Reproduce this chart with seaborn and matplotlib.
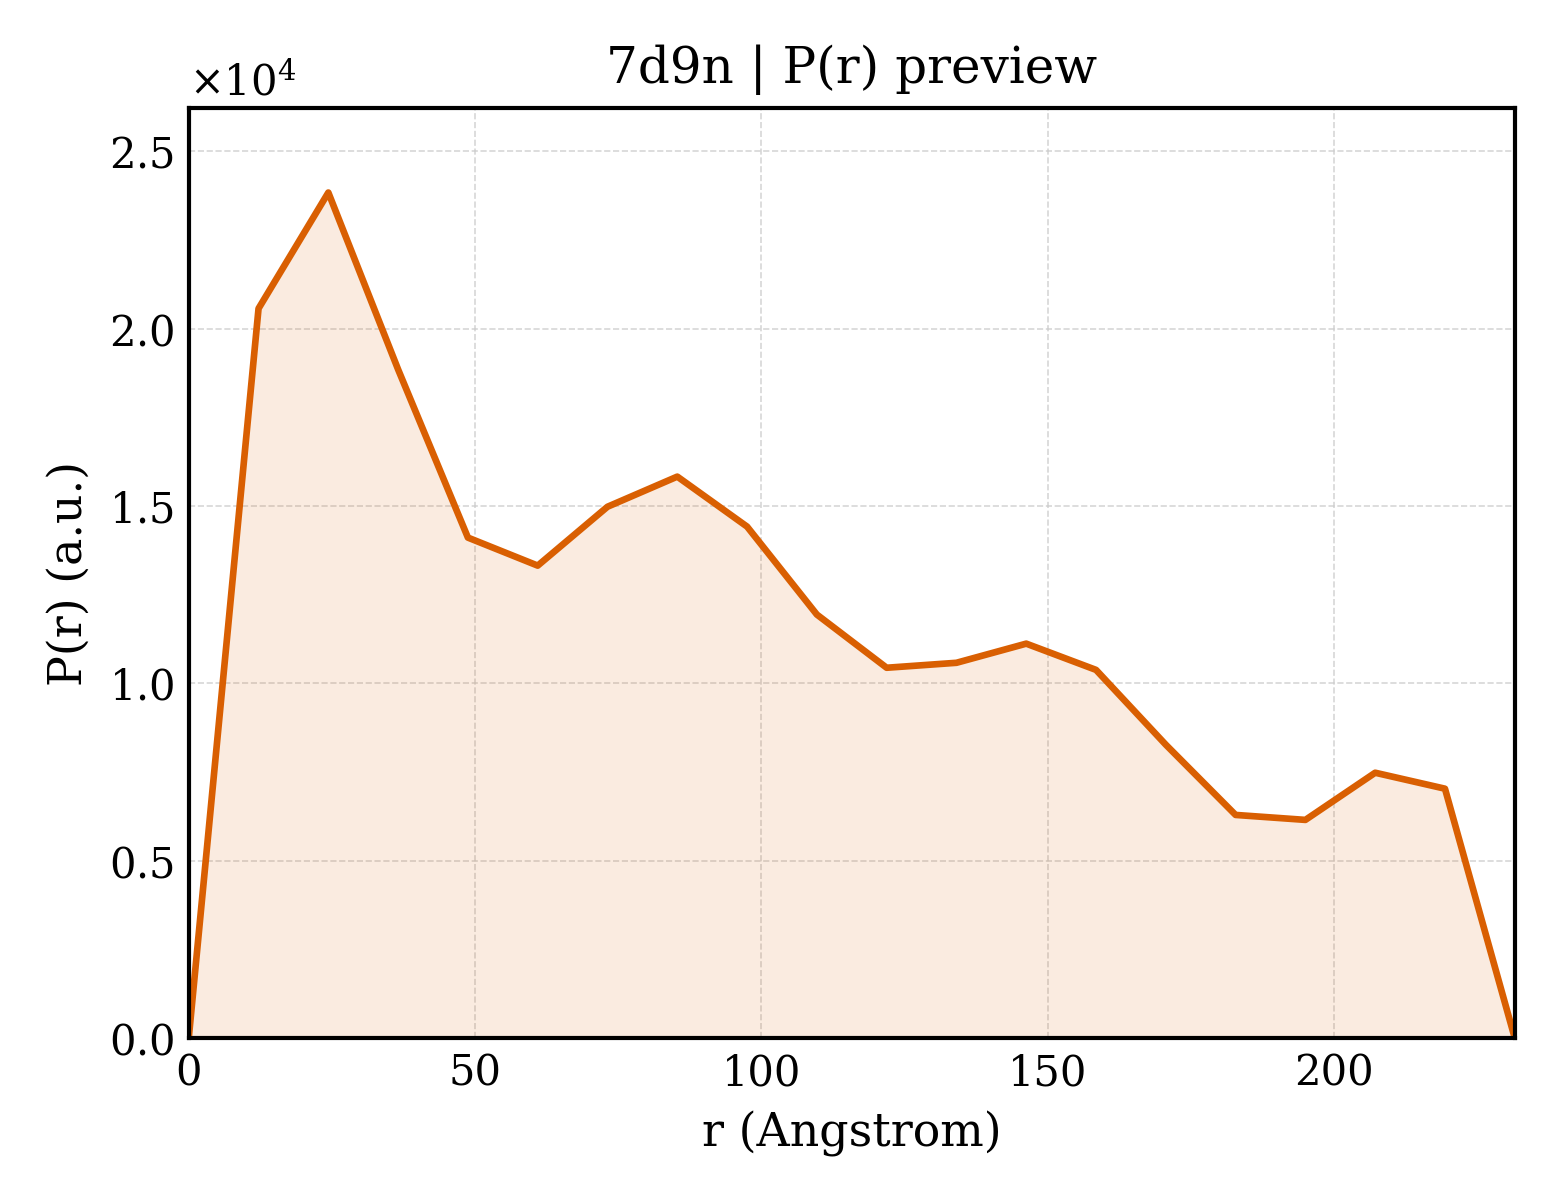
import numpy as np
import pandas as pd
import matplotlib
matplotlib.use("Agg")
import matplotlib.pyplot as plt
import seaborn as sns

# P(r) curve for 7d9n
r_max = 231.6
r = np.linspace(0, r_max, 20)
pr = [0, 20570, 23840, 18850, 14110, 13320, 14980, 15830, 14420, 11940,
      10440, 10580, 11120, 10380, 8270, 6290, 6150, 7480, 7030, 0]

df = pd.DataFrame({"r": r, "pr": pr})

sns.set_theme(style="white")
plt.rcParams["font.family"] = ["DejaVu Serif"]
plt.rcParams["mathtext.fontset"] = "dejavuserif"
plt.rcParams["text.color"] = "black"
plt.rcParams["axes.labelcolor"] = "black"

line_col = "#D95F02"

fig, ax = plt.subplots(figsize=(5.2, 4), dpi=300)
ax.fill_between(df["r"], df["pr"], color=line_col, alpha=0.12, linewidth=0)
sns.lineplot(data=df, x="r", y="pr", ax=ax, color=line_col, linewidth=1.6)

ax.set_xlim(0, r_max)
ax.set_ylim(0, max(pr) * 1.1)
ax.set_xlabel("r (Angstrom)", fontsize=11, color="black")
ax.set_ylabel("P(r) (a.u.)", fontsize=11, color="black")
ax.set_title("7d9n | P(r) preview", fontsize=12, color="black")

ax.ticklabel_format(axis="y", style="sci", scilimits=(0, 0), useMathText=True)
ax.yaxis.get_offset_text().set_fontsize(10)
ax.yaxis.get_offset_text().set_color("black")
ax.tick_params(direction="in", length=4, width=0.8, labelsize=10, colors="black")
ax.grid(True, linestyle="--", linewidth=0.4, color="#cccccc", alpha=0.8)
for s in ax.spines.values():
    s.set_color("black")
    s.set_linewidth(1.0)

fig.subplots_adjust(left=0.121, right=0.971, bottom=0.135, top=0.91)
fig.savefig("out.png", dpi=300)
